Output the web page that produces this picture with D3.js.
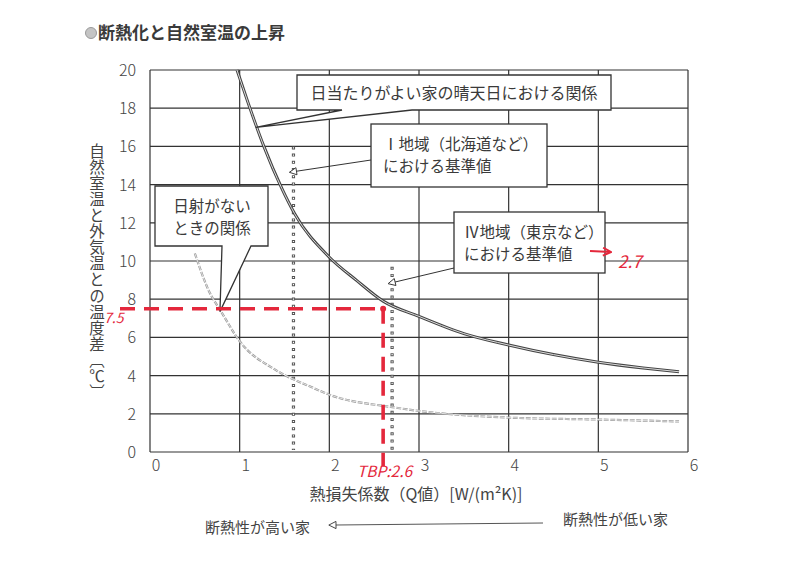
<!DOCTYPE html>
<html lang="ja">
<head>
<meta charset="utf-8">
<title>断熱化と自然室温の上昇</title>
<script src="https://cdn.jsdelivr.net/npm/d3@7"></script>
<style>
  body { margin: 0; background: #fff; }
  text { font-family: "Noto Sans CJK JP", "Noto Sans", sans-serif; }
</style>
</head>
<body>
<script>
// Sunny-day relation (house with good sunlight)
const sunnyQ = [0.97, 1.1, 1.27, 1.47, 1.61, 2.0, 2.3, 2.6, 3.0, 3.5, 4.0, 4.5, 5.0, 5.5, 5.9];
const sunnyT = [20, 18.2, 16, 13.8, 12.5, 10.2, 9.0, 7.9, 7.1, 6.2, 5.6, 5.1, 4.7, 4.4, 4.2];
// No solar gain relation
const noSunQ = [0.5, 0.65, 0.8, 1.0, 1.4, 1.8, 2.0, 2.7, 3.0, 4.0, 5.0, 5.9];
const noSunT = [10.4, 8.5, 7.3, 5.8, 4.3, 3.4, 3.0, 2.35, 2.15, 1.8, 1.7, 1.6];
// Standard values (region I, region IV) and dotted line heights
const standardQ = [1.6, 2.7];
const standardTop = [16, 9.7];
// Red handwritten check values
const checkQ = 2.6;
const checkT = 7.5;

const xTicks = [0, 1, 2, 3, 4, 5, 6];
const yTicks = [0, 2, 4, 6, 8, 10, 12, 14, 16, 18, 20];

const W = 800, H = 566;
const plotL = 150, plotR = 688, plotT = 70, plotB = 452;
const red = "#e4283c";
const ink = "#333";

const x = d3.scaleLinear().domain([0, 6]).range([plotL, plotR]);
const y = d3.scaleLinear().domain([0, 20]).range([plotB, plotT]);

const svg = d3.select("body").append("svg")
  .attr("width", W).attr("height", H);

const defs = svg.append("defs");
defs.append("marker")
  .attr("id", "openhead")
  .attr("viewBox", "0 0 10 10")
  .attr("refX", 1).attr("refY", 5)
  .attr("markerWidth", 9).attr("markerHeight", 9)
  .attr("markerUnits", "userSpaceOnUse")
  .attr("orient", "auto")
  .append("path")
  .attr("d", "M1,1 L9,5 L1,9 Z")
  .attr("fill", "#fff").attr("stroke", ink).attr("stroke-width", 1);
defs.append("marker")
  .attr("id", "redhead")
  .attr("viewBox", "0 0 10 10")
  .attr("refX", 9).attr("refY", 5)
  .attr("markerWidth", 10).attr("markerHeight", 10)
  .attr("markerUnits", "userSpaceOnUse")
  .attr("orient", "auto")
  .append("path")
  .attr("d", "M1,1 L9,5 L1,9")
  .attr("fill", "none").attr("stroke", red).attr("stroke-width", 2);

// Title
svg.append("circle").attr("cx", 91).attr("cy", 33).attr("r", 5.5)
  .attr("fill", "#c4c4c4").attr("stroke", "#999").attr("stroke-width", 1);
svg.append("text").attr("x", 98).attr("y", 39)
  .attr("font-size", 17).attr("font-weight", "bold").attr("fill", "#3a3a3a")
  .text("断熱化と自然室温の上昇");

// Grid
const grid = svg.append("g").attr("stroke", ink).attr("stroke-width", 1.2);
grid.selectAll(".gx").data(xTicks).enter().append("line")
  .attr("x1", d => x(d)).attr("x2", d => x(d))
  .attr("y1", plotT).attr("y2", plotB);
grid.selectAll(".gy").data(yTicks).enter().append("line")
  .attr("y1", d => y(d)).attr("y2", d => y(d))
  .attr("x1", plotL).attr("x2", plotR);

// Tick labels
svg.append("g").selectAll("text").data(yTicks).enter().append("text")
  .attr("x", plotL - 14).attr("y", d => y(d) + 6)
  .attr("text-anchor", "end").attr("font-size", 16).attr("font-weight", 300)
  .attr("fill", "#444").text(d => d);
svg.append("g").selectAll("text").data(xTicks).enter().append("text")
  .attr("x", d => x(d) + 6).attr("y", plotB + 19)
  .attr("text-anchor", "middle").attr("font-size", 16).attr("font-weight", 300)
  .attr("fill", "#444").text(d => d);

// Axis titles
svg.append("text")
  .attr("x", 97).attr("y", 143)
  .attr("font-size", 15.5).attr("fill", "#444")
  .style("writing-mode", "vertical-rl")
  .style("letter-spacing", "0.6px")
  .text("自然室温と外気温との温度差〔℃〕");
svg.append("text").attr("x", 416).attr("y", 500)
  .attr("text-anchor", "middle").attr("font-size", 16).attr("fill", "#444")
  .text("熱損失係数（Q値）[W/(m²K)]");
svg.append("text").attr("x", 205).attr("y", 533)
  .attr("font-size", 15).attr("fill", "#444").text("断熱性が高い家");
svg.append("line").attr("x1", 543).attr("y1", 523).attr("x2", 336).attr("y2", 525)
  .attr("stroke", "#555").attr("stroke-width", 1).attr("marker-end", "url(#openhead)");
svg.append("text").attr("x", 563).attr("y", 525)
  .attr("font-size", 15).attr("fill", "#444").text("断熱性が低い家");

// Standard value dotted columns
svg.append("g").selectAll("line").data(standardQ).enter().append("line")
  .attr("x1", d => x(d)).attr("x2", d => x(d))
  .attr("y1", (d, i) => y(standardTop[i])).attr("y2", plotB - 2)
  .attr("stroke", "#555").attr("stroke-width", 3.2)
  .attr("stroke-dasharray", "3,4.2");
svg.append("g").selectAll("line").data(standardQ).enter().append("line")
  .attr("x1", d => x(d)).attr("x2", d => x(d))
  .attr("y1", (d, i) => y(standardTop[i])).attr("y2", plotB - 2)
  .attr("stroke", "#fff").attr("stroke-width", 1.2)
  .attr("stroke-dasharray", "1.2,6")
  .attr("stroke-dashoffset", -0.9);

const line = d3.line().curve(d3.curveMonotoneX)
  .x(d => x(d[0])).y(d => y(d[1]));

// No-sun curve (light, dotted grey)
const noSun = noSunQ.map((q, i) => [q, noSunT[i]]);
svg.append("path").datum(noSun).attr("d", line)
  .attr("fill", "none").attr("stroke", "#999").attr("stroke-width", 2.2)
  .attr("stroke-dasharray", "5,1.5");
svg.append("path").datum(noSun).attr("d", line)
  .attr("fill", "none").attr("stroke", "#fff").attr("stroke-width", 0.7);

// Sunny curve (double line)
const sunny = sunnyQ.map((q, i) => [q, sunnyT[i]]);
svg.append("path").datum(sunny).attr("d", line)
  .attr("fill", "none").attr("stroke", "#444").attr("stroke-width", 3);
svg.append("path").datum(sunny).attr("d", line)
  .attr("fill", "none").attr("stroke", "#ddd").attr("stroke-width", 1);

// Callouts
const callouts = svg.append("g").attr("stroke", ink).attr("stroke-width", 1.3);

// 日当たりがよい家の晴天日における関係
const t1 = [x(1.18), y(17.0)];
callouts.append("path")
  .attr("d", `M297,75 H611 V110 H412 L${t1[0]},${t1[1]} L342,110 H297 Z`)
  .attr("fill", "#fff");
// 日射がない ときの関係
const t3 = [x(0.78), y(7.35)];
callouts.append("path")
  .attr("d", `M155,186 H268 V246 H251 L${t3[0]},${t3[1]} L222,246 H155 Z`)
  .attr("fill", "#fff");
// Ⅰ地域
callouts.append("rect").attr("x", 371).attr("y", 124).attr("width", 176).attr("height", 63)
  .attr("fill", "#fff");
callouts.append("line").attr("x1", 371).attr("y1", 160)
  .attr("x2", x(standardQ[0]) + 3).attr("y2", y(14.7))
  .attr("stroke-width", 1).attr("marker-end", "url(#openhead)");
// Ⅳ地域
callouts.append("rect").attr("x", 454).attr("y", 212).attr("width", 151).attr("height", 61)
  .attr("fill", "#fff");
callouts.append("line").attr("x1", 454).attr("y1", 268)
  .attr("x2", x(standardQ[1]) + 3).attr("y2", y(8.9))
  .attr("stroke-width", 1).attr("marker-end", "url(#openhead)");

const labels = [
  { x: 454, y: 99, lines: ["日当たりがよい家の晴天日における関係"], anchor: "middle", size: 16 },
  { x: 383, y: 150, lines: ["Ⅰ地域（北海道など）", "における基準値"], anchor: "start", size: 15.5 },
  { x: 212, y: 212, lines: ["日射がない", "ときの関係"], anchor: "middle", size: 15.5 },
  { x: 464, y: 238, lines: ["Ⅳ地域（東京など）", "における基準値"], anchor: "start", size: 15.5 }
];
labels.forEach(l => {
  l.lines.forEach((s, i) => {
    svg.append("text").attr("x", l.x).attr("y", l.y + i * 22)
      .attr("text-anchor", l.anchor).attr("font-size", l.size).attr("fill", "#3a3a3a")
      .text(s);
  });
});

// Red handwritten annotations
const redG = svg.append("g").attr("stroke", red).attr("stroke-width", 3.6)
  .attr("fill", "none").attr("stroke-dasharray", "15,9");
redG.append("line")
  .attr("x1", 120).attr("x2", x(checkQ))
  .attr("y1", y(checkT)).attr("y2", y(checkT));
redG.append("line")
  .attr("x1", x(checkQ)).attr("x2", x(checkQ))
  .attr("y1", y(checkT)).attr("y2", plotB + 14);
svg.append("circle").attr("cx", x(checkQ)).attr("cy", y(checkT)).attr("r", 3).attr("fill", red);

svg.append("text").attr("x", 104).attr("y", 323)
  .attr("font-family", "DejaVu Sans").attr("font-style", "italic")
  .attr("font-size", 14).attr("fill", red).text(checkT);
svg.append("text").attr("x", 357).attr("y", 477)
  .attr("font-family", "DejaVu Sans").attr("font-style", "italic")
  .attr("font-size", 15.5).attr("fill", red).text("TBP:" + checkQ);
svg.append("line").attr("x1", 590).attr("y1", 251).attr("x2", 611).attr("y2", 252)
  .attr("stroke", red).attr("stroke-width", 2).attr("marker-end", "url(#redhead)");
svg.append("text").attr("x", 618).attr("y", 268)
  .attr("font-family", "DejaVu Sans").attr("font-style", "italic")
  .attr("font-size", 17).attr("fill", red).text(standardQ[1]);
</script>
</body>
</html>
